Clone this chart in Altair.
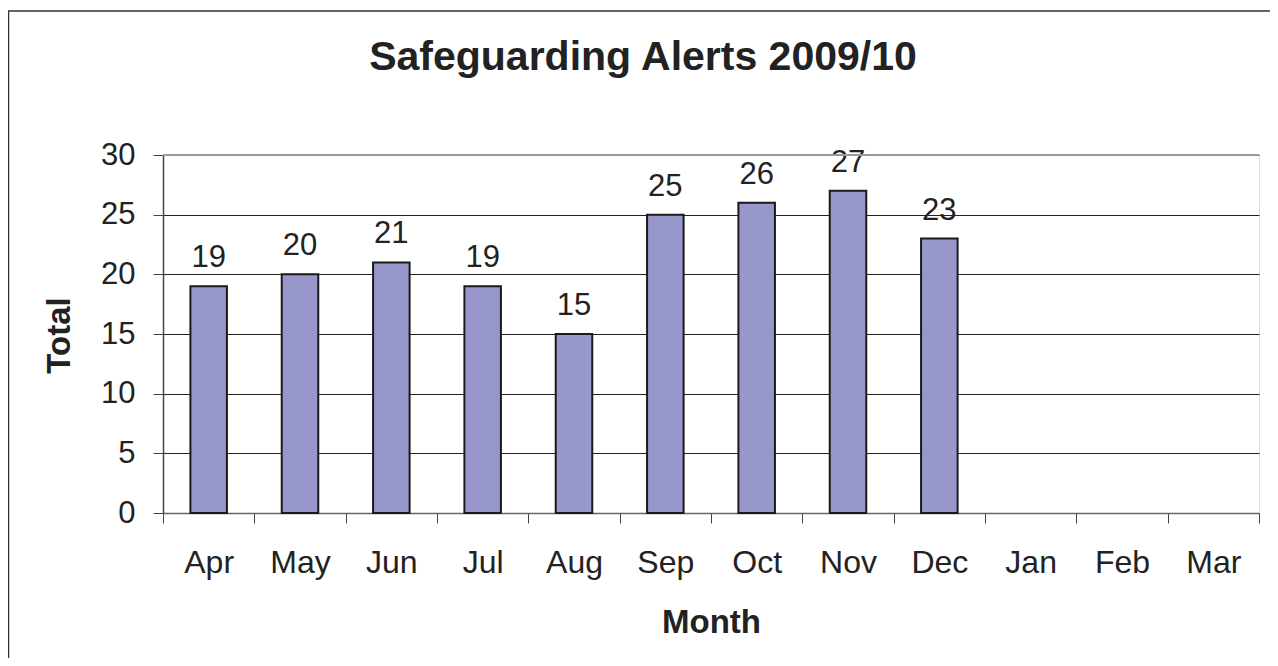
import altair as alt
import pandas as pd

months = ["Apr", "May", "Jun", "Jul", "Aug", "Sep", "Oct", "Nov", "Dec", "Jan", "Feb", "Mar"]
totals = [19, 20, 21, 19, 15, 25, 26, 27, 23, None, None, None]
y_ticks = [0, 5, 10, 15, 20, 25, 30]
title_text = "Safeguarding Alerts 2009/10"

df = pd.DataFrame({"Month": months, "Total": totals})

FONT = "Liberation Sans"
W, H = 1096, 358

x_enc = alt.X(
    "Month:N",
    sort=months,
    scale=alt.Scale(domain=months, paddingInner=0, paddingOuter=0),
    axis=alt.Axis(
        title="Month",
        tickBand="extent",
        labelAngle=0,
        labelFont=FONT,
        labelFontSize=32,
        labelColor="#222222",
        labelPadding=24,
        tickSize=10,
        tickColor="#444444",
        domainColor="#666666",
        domainWidth=1.5,
        titleFont=FONT,
        titleFontSize=33,
        titleFontWeight="bold",
        titleColor="#222222",
        titleY=119,
        titleBaseline="alphabetic",
        grid=False,
    ),
)

y_enc = alt.Y(
    "Total:Q",
    scale=alt.Scale(domain=[0, 30], nice=False),
    axis=alt.Axis(
        values=y_ticks,
        title="Total",
        grid=True,
        gridColor="#222222",
        gridWidth=1,
        tickSize=10,
        tickColor="#444444",
        domainColor="#444444",
        domainWidth=1.5,
        labelFont=FONT,
        labelFontSize=31,
        labelColor="#222222",
        labelPadding=18,
        titleFont=FONT,
        titleFontSize=33,
        titleFontWeight="bold",
        titleColor="#222222",
        titleAngle=-90,
        titleX=-94,
        titleY=180,
        titleAlign="center",
        titleBaseline="alphabetic",
    ),
)

base = alt.Chart(df)

bars = base.mark_bar(
    color="#9797CB", stroke="#1a1a1a", strokeWidth=2,
    width=alt.RelativeBandSize(0.4),
).encode(x=x_enc, y=y_enc)

labels = base.mark_text(
    font=FONT, fontSize=31, color="#222222", baseline="alphabetic", dy=-19
).encode(x=alt.X("Month:N", sort=months), y=alt.Y("Total:Q"), text=alt.Text("Total:Q"))

top_rule = alt.Chart(pd.DataFrame({"v": [30]})).mark_rule(
    color="#999999", strokeWidth=2
).encode(y="v:Q")

title = alt.Chart(pd.DataFrame({"t": [title_text]})).mark_text(
    font=FONT, fontSize=41, fontWeight="bold", color="#222222",
    baseline="alphabetic", align="center"
).encode(text="t:N", x=alt.value(480), y=alt.value(-85))

border = alt.Chart(pd.DataFrame({"a": [0]})).mark_rect(
    fill=None, stroke="#333333", strokeWidth=1.5, clip=False
).encode(x=alt.value(-154.5), x2=alt.value(1200), y=alt.value(-144), y2=alt.value(600))

chart = (
    alt.layer(border, bars, labels, top_rule, title)
    .properties(
        width=W,
        height=H,
        autosize=alt.AutoSizeParams(type="none"),
        padding={"left": 155, "top": 147, "right": 11, "bottom": 145},
    )
    .configure_view(stroke="#999999", strokeWidth=2)
    .configure(background="white")
)

chart.save("out.html", embed_options={"renderer": "svg", "actions": False})
